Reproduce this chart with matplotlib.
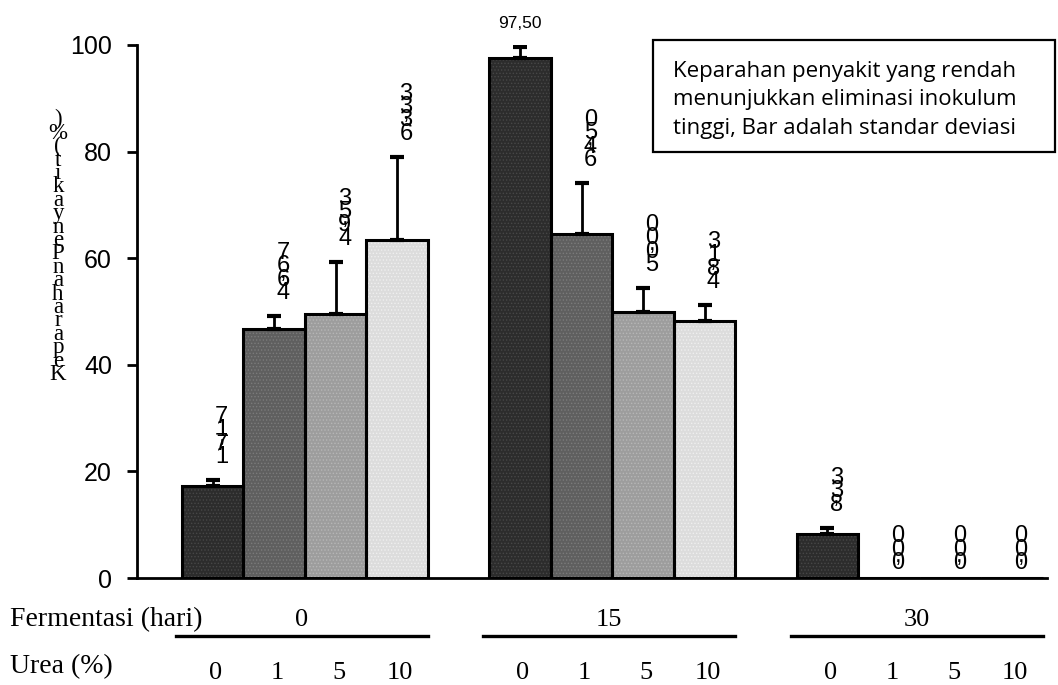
import matplotlib
matplotlib.use('Agg')
import matplotlib.pyplot as plt
from matplotlib.patches import Rectangle

# data
fermentasi = ['0', '15', '30']
urea = ['0', '1', '5', '10']
severity = [[17.17, 46.67, 49.53, 63.33],
            [97.50, 64.50, 50.00, 48.13],
            [8.33, 0.00, 0.00, 0.00]]
sd = [[1.2, 2.5, 9.8, 15.7],
      [2.1, 9.6, 4.4, 3.1],
      [1.1, 0.0, 0.0, 0.0]]
value_labels = [['17,17', '46,67', '49,53', '63,33'],
                ['97,50', '64,50', '50,00', '48,13'],
                ['8,33', '0,00', '0,00', '0,00']]
yticks = [0, 20, 40, 60, 80, 100]
ylabel = 'Keparahan Penyakit (%)'
note = ['Keparahan penyakit yang rendah',
        'menunjukkan eliminasi inokulum',
        'tinggi, Bar adalah standar deviasi']

FACE = ['#2c2c2c', '#5f5f5f', '#9d9d9d', '#dcdcdc']
DOTS = ['#474747', '#7b7b7b', '#b6b6b6', '#efefef']
SANS = 'Liberation Sans'
SERIF = 'Liberation Serif'

W, H = 1058, 685
fig = plt.figure(figsize=(W / 100, H / 100), dpi=100)
ax = fig.add_axes([137 / W, 107 / H, 910 / W, 533 / H])
plt.rcParams['hatch.linewidth'] = 0.6

GAP = 5  # jarak antar kelompok (satuan lebar bar)


def stacked(ax, x, y, s, dx, dy, step, **kw):
    """teks vertikal: karakter tegak ditumpuk dari bawah ke atas"""
    pos = 0.0
    for ch in s:
        if ch == ' ':
            continue
        if ch == ',':
            ax.annotate(ch, (x, y), xytext=(dx, dy + pos - step * 0.45),
                        textcoords='offset pixels', ha='center', va='bottom', **kw)
            continue
        ax.annotate(ch, (x, y), xytext=(dx, dy + pos),
                    textcoords='offset pixels', ha='center', va='bottom', **kw)
        pos += step


for g, grp in enumerate(fermentasi):
    xs = [g * GAP + i + 0.5 for i in range(len(urea))]
    # isi bar dengan tekstur titik
    ax.bar(xs, severity[g], width=1.0, color=FACE, edgecolor=DOTS,
           hatch='.....', linewidth=0, zorder=2)
    ax.bar(xs, severity[g], width=1.0, color='none', edgecolor='black',
           linewidth=2.2, zorder=3)
    for i, x in enumerate(xs):
        v, e = severity[g][i], sd[g][i]
        if e > 0:
            ax.errorbar(x, v, yerr=[[0], [e]], fmt='none', ecolor='black',
                        elinewidth=2.0, capsize=4.7, capthick=3, zorder=4)
        lab = value_labels[g][i]
        if v > 90:
            ax.annotate(lab, (x, v + e), xytext=(0, 16), textcoords='offset pixels',
                        ha='center', va='bottom', fontsize=12.5, fontfamily=SANS,
                        annotation_clip=False)
        else:
            stacked(ax, x, v + e, lab, 9, 12 if e > 0 else 4, 13.4,
                    fontsize=17, fontfamily=SANS, annotation_clip=False)
        # label urea
        ax.annotate(urea[i], (x, 0), xycoords=('data', 'axes fraction'),
                    xytext=(3, -95), textcoords='offset pixels',
                    ha='center', va='center', fontsize=19, fontfamily=SERIF,
                    annotation_clip=False)
    # label hari fermentasi + garis
    x0, x1 = g * GAP - 0.1, min(g * GAP + 4.0, 14.0)
    ax.annotate(grp, ((x0 + x1) / 2, 0), xycoords=('data', 'axes fraction'),
                xytext=(0, -42), textcoords='offset pixels',
                ha='center', va='center', fontsize=19, fontfamily=SERIF,
                annotation_clip=False)
    ax.plot([x0, x1], [-0.108, -0.108], color='black', lw=2.4,
            transform=ax.get_xaxis_transform(), clip_on=False)

ax.set_xlim(-0.73, 14.07)
ax.set_ylim(0, 100)
ax.set_yticks(yticks)
ax.set_xticks([])
ax.tick_params(axis='y', direction='out', length=7, width=2, pad=11,
               labelsize=18)
for t in ax.get_yticklabels():
    t.set_fontfamily(SANS)
for side in ('top', 'right'):
    ax.spines[side].set_visible(False)
for side in ('left', 'bottom'):
    ax.spines[side].set_linewidth(2)

# label sumbu y (huruf ditumpuk)
pos = 0.0
for ch in ylabel:
    if ch == ' ':
        continue
    fig.text(58 / W, (H - 380) / H + pos / H, ch, ha='center', va='baseline',
             fontsize=16.5, fontfamily=SERIF)
    pos += 13.4

fig.text(10 / W, (H - 620) / H, 'Fermentasi (hari)', ha='left', va='center',
         fontsize=20, fontfamily=SERIF)
fig.text(10 / W, (H - 667) / H, 'Urea (%)', ha='left', va='center',
         fontsize=20, fontfamily=SERIF)

# kotak keterangan
box = Rectangle((653 / W, (H - 152) / H), 402 / W, 112 / H,
                transform=fig.transFigure, facecolor='white', edgecolor='black',
                linewidth=1.6, zorder=5)
fig.patches.append(box)
for k, line in enumerate(note):
    t = fig.text(673 / W, (H - 77 - 28.5 * k) / H, line, ha='left', va='baseline',
                 fontsize=16, fontfamily='Open Sans', zorder=6)
    t.set_clip_path(box)

fig.savefig('out.png', dpi=100, facecolor='white')
